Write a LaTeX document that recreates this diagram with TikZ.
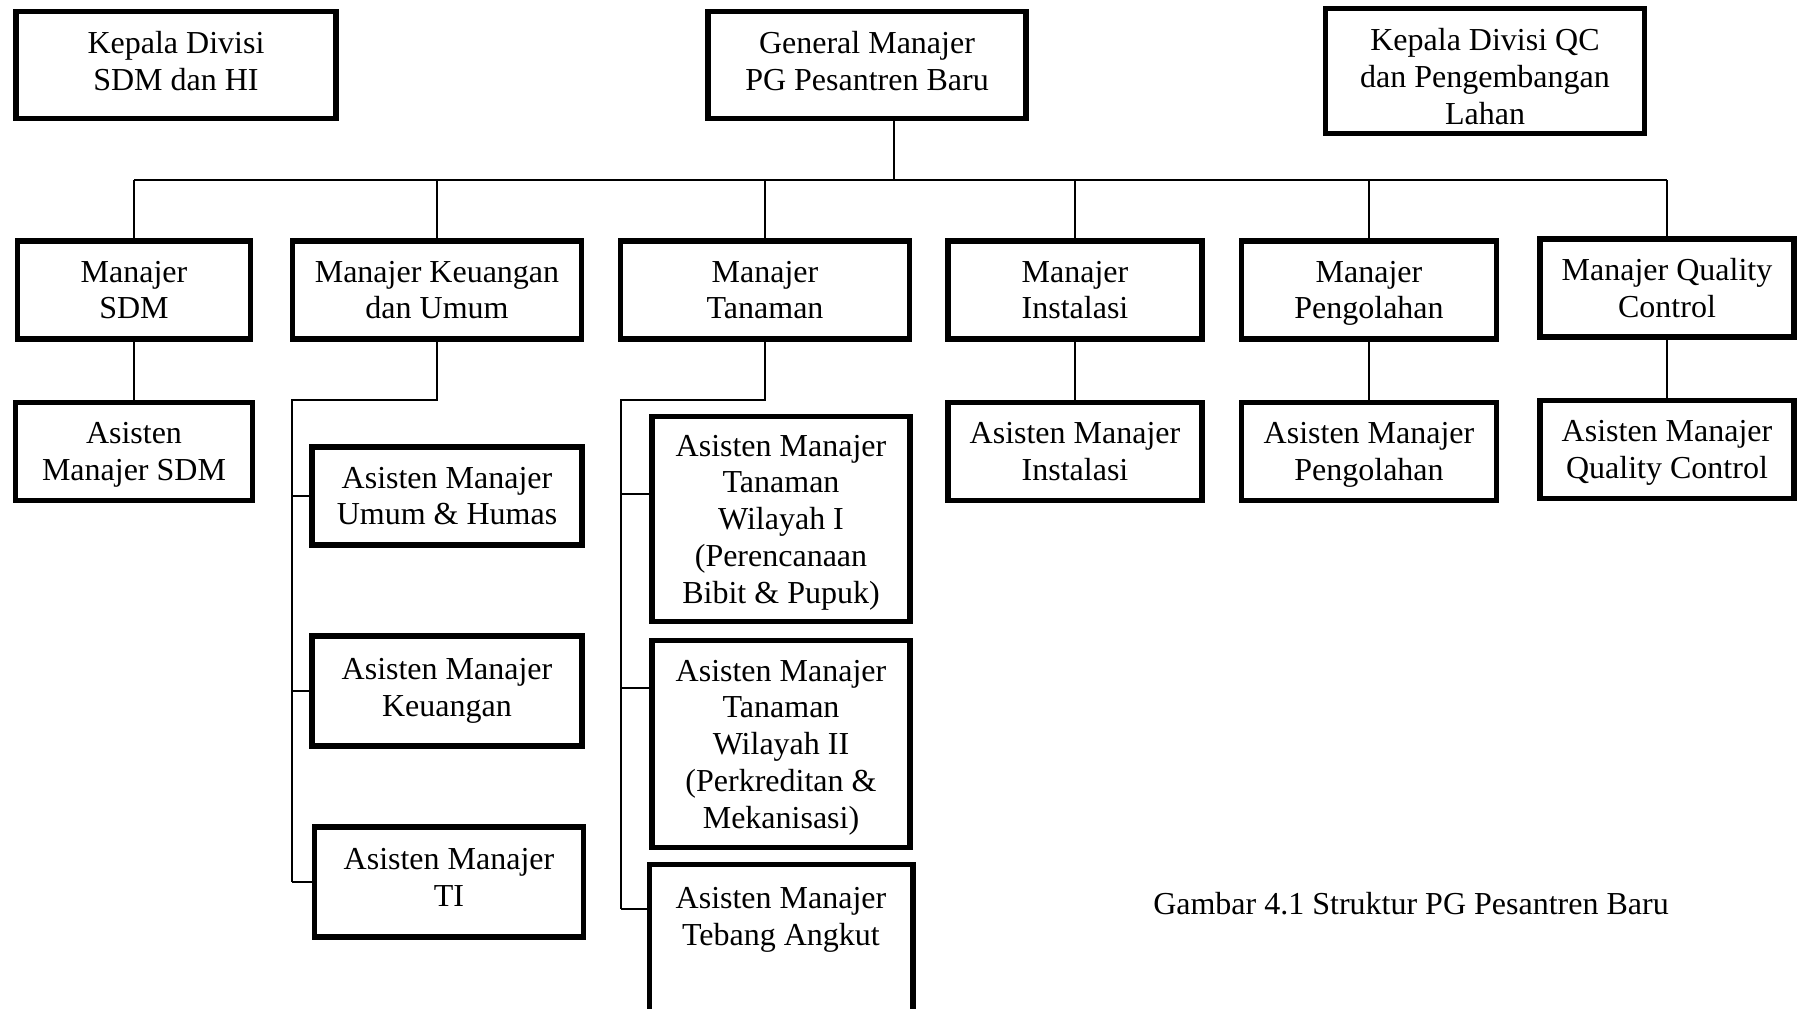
\documentclass[tikz,border=0pt]{standalone}
\usepackage{fontspec}
\setmainfont{Liberation Serif}
\usetikzlibrary{positioning}
\tikzset{
    box/.style={rectangle, draw, line width=5.5pt, align=center, inner sep=2pt, minimum height=98pt, text depth=0pt, font=\fontsize{32}{36.8}\selectfont},
    line/.style={draw, line width=1.5pt}
}

\begin{document}
\begin{tikzpicture}[x=1pt, y=-1pt, node distance=58pt]
    \path [use as bounding box, fill=white] (0,0) rectangle (1802,1009);

    % Top Level
    \node [box, minimum width=320pt, minimum height=107pt, text depth=9pt] (kdsdm) at (176,65) {Kepala Divisi\\SDM dan HI};
    \node [box, minimum width=318pt, minimum height=107pt, text depth=9pt] (gm) at (867,65) {General Manajer\\PG Pesantren Baru};
    \node [box, minimum width=319pt, minimum height=125pt, text height=106pt] (kdqc) at (1485,71) {Kepala Divisi QC\\dan Pengembangan\\Lahan};

    % Manajer Level
    \node [box, minimum width=233pt] (msdm) at (134,290) {Manajer\\SDM};
    \node [box, minimum width=289pt] (mku) at (437,290) {Manajer Keuangan\\dan Umum};
    \node [box, minimum width=289pt] (mtan) at (765,290) {Manajer\\Tanaman};
    \node [box, minimum width=254pt] (mins) at (1075,290) {Manajer\\Instalasi};
    \node [box, minimum width=255pt] (mpeng) at (1369,290) {Manajer\\Pengolahan};
    \node [box, minimum width=254pt] (mqc) at (1667,288) {Manajer Quality\\Control};

    % Asisten Manajer Level
    \node [box, minimum width=237pt, below=58pt of msdm] (asdm) {Asisten\\Manajer SDM};
    \node [box, minimum width=254pt, below=of mins] (ains) {Asisten Manajer\\Instalasi};
    \node [box, minimum width=255pt, below=of mpeng] (apeng) {Asisten Manajer\\Pengolahan};
    \node [box, minimum width=254pt, below=of mqc] (aqc) {Asisten Manajer\\Quality Control};

    % Keuangan dan Umum
    \node [box, minimum width=270pt] (aumum) at (447,496) {Asisten Manajer\\Umum \& Humas};
    \node [box, minimum width=270pt, minimum height=110pt, text depth=7pt] (akeu) at (447,691) {Asisten Manajer\\Keuangan};
    \node [box, minimum width=269pt, minimum height=110pt, text depth=9pt] (ati) at (449,882) {Asisten Manajer\\TI};

    % Tanaman
    \node [box, minimum width=258pt, minimum height=205pt] (aw1) at (781,519) {Asisten Manajer\\Tanaman\\Wilayah I\\(Perencanaan\\Bibit \& Pupuk)};
    \node [box, minimum width=258pt, minimum height=207pt] (aw2) at (781,744) {Asisten Manajer\\Tanaman\\Wilayah II\\(Perkreditan \&\\Mekanisasi)};
    \node [box, draw=none, minimum width=258pt] (ateb) at (781,916) {Asisten Manajer\\Tebang Angkut};
    \draw [line width=5.5pt] (ateb.north west) rectangle ([yshift=-140pt]ateb.south east);

    \node [font=\fontsize{32}{36.8}\selectfont] (caption) at (1411,904) {Gambar 4.1 Struktur PG Pesantren Baru};

    % Connections
    \coordinate (bus) at (0,180);
    \coordinate (gmdrop) at ([xshift=27pt]gm.south);
    \path [line] (gmdrop) -- (gmdrop |- bus);
    \path [line] (msdm.north |- bus) -- (mqc.north |- bus);
    \path [line] (msdm.north) -- (msdm.north |- bus);
    \path [line] (mku.north) -- (mku.north |- bus);
    \path [line] (mtan.north) -- (mtan.north |- bus);
    \path [line] (mins.north) -- (mins.north |- bus);
    \path [line] (mpeng.north) -- (mpeng.north |- bus);
    \path [line] (mqc.north) -- (mqc.north |- bus);

    \path [line] (msdm) -- (asdm);
    \path [line] (mins) -- (ains);
    \path [line] (mpeng) -- (apeng);
    \path [line] (mqc) -- (aqc);

    \coordinate (kspine) at (292,400);
    \path [line] (mku.south) |- (kspine) -- (kspine |- ati.west);
    \path [line] (kspine |- aumum.west) -- (aumum.west);
    \path [line] (kspine |- akeu.west) -- (akeu.west);
    \path [line] (kspine |- ati.west) -- (ati.west);

    \coordinate (tspine) at (621,400);
    \coordinate (aw1in) at ([yshift=25pt]aw1.west);
    \coordinate (aw2in) at ([yshift=56pt]aw2.west);
    \coordinate (atebin) at ([yshift=7pt]ateb.west);
    \path [line] (mtan.south) |- (tspine) -- (tspine |- atebin);
    \path [line] (tspine |- aw1in) -- (aw1in);
    \path [line] (tspine |- aw2in) -- (aw2in);
    \path [line] (tspine |- atebin) -- (atebin);
\end{tikzpicture}
\end{document}
